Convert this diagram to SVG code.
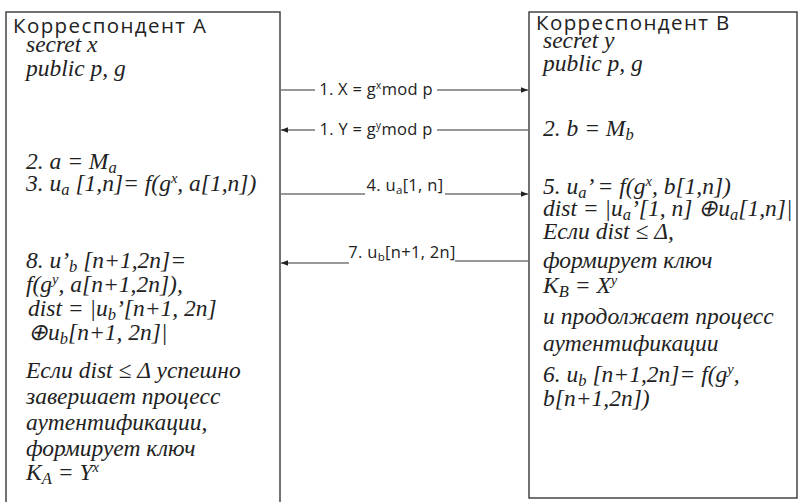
<svg xmlns="http://www.w3.org/2000/svg" width="802" height="502" viewBox="0 0 802 502">
<defs>
<marker id="ah" viewBox="0 0 10 10" refX="10" refY="5" markerWidth="9" markerHeight="7" markerUnits="userSpaceOnUse" orient="auto">
<path d="M0,1 L10,5 L0,9 z" fill="#222"/>
</marker>
</defs>
<rect width="802" height="502" fill="#fff"/>

<g id="nodeA" fill="#222">
<rect x="6" y="12" width="274" height="510" fill="#fff" stroke="#444" stroke-width="1.5"/>
<text font-family="Open Sans, Liberation Sans, sans-serif" font-size="20.5" letter-spacing="1.4" x="13" y="33">Корреспондент А</text>
<g font-family="Liberation Serif, Times New Roman, serif" font-style="italic" font-size="23.5">
<text x="26" y="52">secret x</text>
<text x="26" y="76">public p, g</text>
<text x="26" y="169">2. a = M<tspan baseline-shift="-4" font-size="16.5">a</tspan></text>
<text x="26" y="191">3. u<tspan baseline-shift="-4" font-size="16.5">a</tspan> [1,n]= f(g<tspan baseline-shift="8" font-size="14.5">x</tspan>, a[1,n])</text>
<text x="26" y="268">8. u’<tspan baseline-shift="-4" font-size="16.5">b</tspan> [n+1,2n]=</text>
<text x="26" y="292">f(g<tspan baseline-shift="8" font-size="14.5">y</tspan>, a[n+1,2n]),</text>
<text x="28" y="316">dist = |u<tspan baseline-shift="-4" font-size="16.5">b</tspan>’[n+1, 2n]</text>
<text x="28" y="340">⊕u<tspan baseline-shift="-4" font-size="16.5">b</tspan>[n+1, 2n]|</text>
<text x="26" y="378">Если dist ≤ Δ успешно</text>
<text x="26" y="404">завершает процесс</text>
<text x="26" y="430">аутентификации,</text>
<text x="26" y="456">формирует ключ</text>
<text x="26" y="480">K<tspan baseline-shift="-4" font-size="16.5">A</tspan> = Y<tspan baseline-shift="8" font-size="14.5">x</tspan></text>
</g>
</g>

<g id="nodeB" fill="#222">
<rect x="529" y="12" width="268" height="486" fill="#fff" stroke="#444" stroke-width="1.5"/>
<text font-family="Open Sans, Liberation Sans, sans-serif" font-size="20.5" letter-spacing="1.4" x="536" y="30">Корреспондент В</text>
<g font-family="Liberation Serif, Times New Roman, serif" font-style="italic" font-size="23.5">
<text x="543" y="48">secret y</text>
<text x="543" y="71">public p, g</text>
<text x="543" y="136">2. b = M<tspan baseline-shift="-4" font-size="16.5">b</tspan></text>
<text x="543" y="194">5. u<tspan baseline-shift="-4" font-size="16.5">a</tspan>’ = f(g<tspan baseline-shift="8" font-size="14.5">x</tspan>, b[1,n])</text>
<text x="543" y="216">dist = |u<tspan baseline-shift="-4" font-size="16.5">a</tspan>’[1, n] ⊕u<tspan baseline-shift="-4" font-size="16.5">a</tspan>[1,n]|</text>
<text x="543" y="239">Если dist ≤ Δ,</text>
<text x="543" y="268">формирует ключ</text>
<text x="543" y="293">K<tspan baseline-shift="-4" font-size="16.5">B</tspan> = X<tspan baseline-shift="8" font-size="14.5">y</tspan></text>
<text x="543" y="324">и продолжает процесс</text>
<text x="543" y="351">аутентификации</text>
<text x="543" y="382">6. u<tspan baseline-shift="-4" font-size="16.5">b</tspan> [n+1,2n]= f(g<tspan baseline-shift="8" font-size="14.5">y</tspan>,</text>
<text x="543" y="406">b[n+1,2n])</text>
</g>
</g>

<g id="connectors" fill="#222" stroke-width="1">
<line x1="281" y1="90" x2="315" y2="90" stroke="#333"/>
<line x1="437" y1="90" x2="528" y2="90" stroke="#333" marker-end="url(#ah)"/>
<line x1="528" y1="130" x2="437" y2="130" stroke="#333"/>
<line x1="315" y1="130" x2="281" y2="130" stroke="#333" marker-end="url(#ah)"/>
<line x1="281" y1="194" x2="365" y2="194" stroke="#333"/>
<line x1="445" y1="194" x2="528" y2="194" stroke="#333" marker-end="url(#ah)"/>
<line x1="528" y1="261" x2="455" y2="261" stroke="#333"/>
<line x1="349" y1="263" x2="281" y2="263" stroke="#333" marker-end="url(#ah)"/>
<g font-family="Open Sans, Liberation Sans, sans-serif" font-size="16.5" letter-spacing="0.3" text-anchor="middle">
<text x="376" y="95">1. X = g<tspan baseline-shift="6" font-size="10">x</tspan>mod p</text>
<text x="376" y="135">1. Y = g<tspan baseline-shift="6" font-size="10">y</tspan>mod p</text>
<text x="405" y="191">4. u<tspan baseline-shift="-3" font-size="11.5">a</tspan>[1, n]</text>
<text x="402" y="258">7. u<tspan baseline-shift="-3" font-size="11.5">b</tspan>[n+1, 2n]</text>
</g>
</g>
</svg>
